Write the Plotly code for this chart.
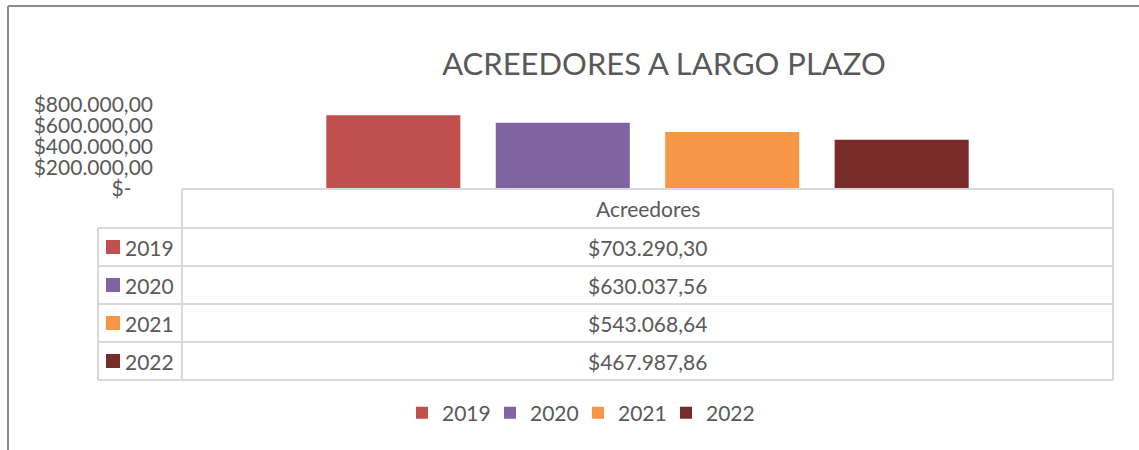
import plotly.graph_objects as go

# ---- data ----
categories = ["Acreedores"]
years = ["2019", "2020", "2021", "2022"]
values = [703290.30, 630037.56, 543068.64, 467987.86]
colors = ["#C0504D", "#8064A2", "#F79646", "#772C2A"]
tick_vals = [0, 200000, 400000, 600000, 800000]
tick_text = ["$-\u00a0\u00a0\u00a0\u00a0", "$200.000,00", "$400.000,00", "$600.000,00", "$800.000,00"]
title_text = "ACREEDORES A LARGO PLAZO"

W, H = 1139, 450
FONT = "Lato"
TXT = "#595959"
GRID = "#d9d9d9"
FS = 21


def px(x):
    return x / W


def py(y):
    return 1 - y / H


def fmt_money(v):
    s = f"{v:,.2f}"
    s = s.replace(",", "X").replace(".", ",").replace("X", ".")
    return "$" + s


fig = go.Figure()
for yr, v, c in zip(years, values, colors):
    fig.add_trace(go.Bar(x=categories, y=[v], name=yr, marker=dict(color=c, line=dict(width=0))))

shapes = []
annotations = []

# outer chart border (top and left)
shapes.append(dict(type="line", xref="paper", yref="paper", x0=px(8), x1=px(1145), y0=py(6), y1=py(6),
                   line=dict(color="#8c8c8c", width=2)))
shapes.append(dict(type="line", xref="paper", yref="paper", x0=px(8), x1=px(8), y0=py(6), y1=py(455),
                   line=dict(color="#8c8c8c", width=2)))

# data table grid
x_left, x_lab, x_right = 98, 182, 1113
y_top, y_head = 189, 228
row_h = 38
n = len(years)
y_bottom = y_head + row_h * n


def hline(y, x0, x1):
    shapes.append(dict(type="line", xref="paper", yref="paper", x0=px(x0), x1=px(x1), y0=py(y), y1=py(y),
                       line=dict(color=GRID, width=2)))


def vline(x, y0, y1):
    shapes.append(dict(type="line", xref="paper", yref="paper", x0=px(x), x1=px(x), y0=py(y0), y1=py(y1),
                       line=dict(color=GRID, width=2)))


hline(y_top, x_lab, x_right)
for i in range(n + 1):
    hline(y_head + row_h * i, x_left, x_right)
vline(x_lab, y_top, y_bottom)
vline(x_right, y_top, y_bottom)
vline(x_left, y_head, y_bottom)

xc = (x_lab + x_right) / 2
annotations.append(dict(x=px(xc), y=py((y_top + y_head) / 2), xref="paper", yref="paper", text=categories[0],
                        showarrow=False, xanchor="center", yanchor="middle", font=dict(size=FS, color=TXT, family=FONT)))
for i, (yr, v, c) in enumerate(zip(years, values, colors)):
    yc = y_head + row_h * i + row_h / 2
    shapes.append(dict(type="rect", xref="paper", yref="paper", x0=px(106), x1=px(120), y0=py(yc - 7), y1=py(yc + 7),
                       fillcolor=c, line=dict(width=0)))
    annotations.append(dict(x=px(123), y=py(yc), xref="paper", yref="paper", text=yr, showarrow=False,
                            xanchor="left", yanchor="middle", font=dict(size=FS, color=TXT, family=FONT)))
    annotations.append(dict(x=px(xc), y=py(yc), xref="paper", yref="paper", text=fmt_money(v), showarrow=False,
                            xanchor="center", yanchor="middle", font=dict(size=FS, color=TXT, family=FONT)))

fig.update_layout(
    template="none",
    width=W, height=H,
    margin=dict(l=0, r=0, t=0, b=0, pad=0, autoexpand=False),
    paper_bgcolor="white", plot_bgcolor="white",
    font=dict(family=FONT, color=TXT, size=FS),
    title=dict(text=title_text, x=px(664), y=py(64), xanchor="center", yanchor="middle",
               font=dict(size=31, color=TXT, family=FONT)),
    barmode="group", bargap=0.272, bargroupgap=0.209,
    xaxis=dict(domain=[px(x_lab), px(x_right)], range=[-0.5, 0.5], showticklabels=False, showgrid=False,
               zeroline=False, showline=False, ticks="", automargin=False),
    yaxis=dict(domain=[py(y_top), py(105)], range=[0, 800000], tickvals=tick_vals, ticktext=tick_text,
               showgrid=False, zeroline=False, showline=False, ticks="", ticklabelstandoff=28, automargin=False,
               tickfont=dict(size=FS, color=TXT, family=FONT)),
    legend=dict(orientation="h", x=px(402), xanchor="left", y=py(413), yanchor="middle",
                font=dict(size=FS, color=TXT, family=FONT), itemwidth=30, traceorder="normal",
                entrywidth=43, entrywidthmode="pixels",
                bgcolor="rgba(0,0,0,0)", borderwidth=0),
    shapes=shapes,
    annotations=annotations,
    showlegend=True,
)

fig.write_html("out.html", config={"displayModeBar": False},
               post_script="document.body.style.margin='0';document.body.style.padding='0';")
